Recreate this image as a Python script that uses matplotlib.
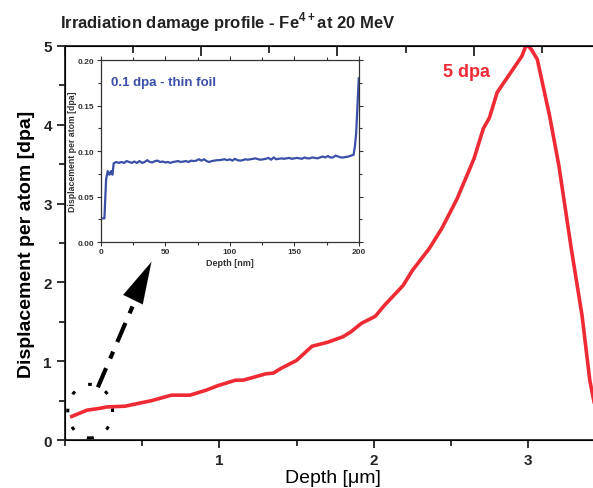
import matplotlib
matplotlib.use("Agg")
import matplotlib.pyplot as plt
from matplotlib.patches import Ellipse
from matplotlib.ticker import MultipleLocator, FormatStrFormatter

plt.rcParams['font.family'] = ['Liberation Sans', 'DejaVu Sans']
plt.rcParams['mathtext.fontset'] = 'custom'
plt.rcParams['mathtext.rm'] = 'Liberation Sans'
plt.rcParams['mathtext.bf'] = 'Liberation Sans:bold'

# main profile (depth in um, dpa)
depth_um = [0.044, 0.143, 0.217, 0.27, 0.39, 0.56, 0.69, 0.81, 0.91, 0.99, 1.105, 1.155,
            1.30, 1.35, 1.40, 1.50, 1.55, 1.60, 1.70, 1.80, 1.85, 1.92, 2.01, 2.07, 2.19,
            2.25, 2.36, 2.44, 2.54, 2.65, 2.71, 2.75, 2.80, 2.88, 2.96, 2.99, 3.02, 3.06,
            3.14, 3.20, 3.28, 3.35, 3.40, 3.44, 3.48]
dpa = [0.30, 0.38, 0.40, 0.42, 0.43, 0.50, 0.57, 0.57, 0.63, 0.69, 0.76, 0.76,
       0.84, 0.85, 0.91, 1.01, 1.10, 1.19, 1.24, 1.31, 1.37, 1.48, 1.57, 1.71, 1.96,
       2.15, 2.43, 2.68, 3.06, 3.57, 3.95, 4.09, 4.41, 4.64, 4.87, 5.02, 4.96, 4.83,
       4.11, 3.48, 2.43, 1.58, 0.76, 0.36, 0.10]

# thin foil profile (depth in nm, dpa)
depth_nm = [1.5, 2.8, 4.1, 5.4, 6.7, 8, 9] + list(range(10, 197, 2)) + [197, 198, 199, 200]
foil_dpa = [0.026, 0.026, 0.069, 0.078, 0.074, 0.078, 0.074,
            0.0865, 0.088, 0.087, 0.088, 0.087, 0.089, 0.088, 0.087, 0.0885, 0.087,
            0.089, 0.087, 0.088, 0.090, 0.088, 0.0875, 0.089, 0.0895, 0.088, 0.0885,
            0.0875, 0.088, 0.087, 0.088, 0.0885, 0.089, 0.088, 0.0885, 0.089, 0.088,
            0.0895, 0.089, 0.0895, 0.091, 0.0895, 0.091, 0.089, 0.088, 0.089, 0.0895,
            0.090, 0.090, 0.0905, 0.091, 0.090, 0.091, 0.0895, 0.0915, 0.090, 0.0895,
            0.090, 0.091, 0.0905, 0.091, 0.0915, 0.092, 0.091, 0.0905, 0.091, 0.0915,
            0.0925, 0.0905, 0.093, 0.091, 0.0915, 0.092, 0.0915, 0.092, 0.0925, 0.0915,
            0.092, 0.0925, 0.092, 0.0915, 0.093, 0.092, 0.092, 0.093, 0.0925, 0.092,
            0.093, 0.094, 0.093, 0.0945, 0.093, 0.093, 0.095, 0.094, 0.093, 0.093,
            0.0935, 0.094, 0.095, 0.096,
            0.105, 0.120, 0.150, 0.180]

fig = plt.figure(figsize=(5.93, 4.89), dpi=100)
ax = fig.add_axes([0.1096, 0.098, 0.905, 0.806])
ax.plot(depth_um, dpa, color='#ee2a35', lw=2.6, solid_joinstyle='round')
ax.set_xlim(0, 3.477)
ax.set_ylim(0, 5)
ax.set_xticks([1, 2, 3])
ax.xaxis.set_minor_locator(MultipleLocator(0.5))
ax.yaxis.set_major_locator(MultipleLocator(1))
ax.yaxis.set_minor_locator(MultipleLocator(0.5))
ax.tick_params(which='both', direction='out', width=1.3, labelsize=11, colors='#222222')
ax.tick_params(which='major', length=6)
ax.tick_params(which='minor', length=4)
ax.tick_params(which='both', axis='y', right=True)
for lab in ax.get_xticklabels() + ax.get_yticklabels():
    lab.set_fontweight('bold')
for s in ax.spines.values():
    s.set_linewidth(1.3)
    s.set_color('#222222')
ax.set_xlabel('Depth [\u03bcm]', fontsize=14, labelpad=1)
ax.set_ylabel('Displacement per atom [dpa]', fontsize=14, fontweight='bold', labelpad=6)

# top axis ticks (not aligned with bottom axis)
top = ax.twiny()
top.set_xlim(0, 3.94)
top.xaxis.set_major_locator(MultipleLocator(1))
top.xaxis.set_minor_locator(MultipleLocator(0.5))
top.tick_params(which='both', direction='in', labeltop=False, width=1.3, colors='#222222')
top.tick_params(which='major', length=7)
top.tick_params(which='minor', length=5)

fig.text(0.101, 0.955, r'Irradiation damage profile - Fe$^{\mathbf{4+}}$at 20 MeV',
         fontsize=12, fontweight='bold', color='#222222', va='center')
ax.text(2.45, 4.67, '5 dpa', color='#ee2a35', fontsize=13, fontweight='bold', va='center')

# dashed ellipse + dash-dot arrow to inset
ax.add_patch(Ellipse((0.163, 0.367), 0.29, 0.68, fill=False, lw=2.2, ls=(0, (1.2, 5.0)),
                     color='black', clip_on=False))
ax.plot([0.213, 0.50], [0.67, 1.98], color='black', lw=3.0,
        ls=(0, (5, 2.5, 1.8, 2.5)), solid_capstyle='round')
ax.annotate('', xy=(0.56, 2.26), xytext=(0.47, 1.90),
            arrowprops=dict(arrowstyle='-|>,head_length=1.0,head_width=0.26',
                            color='black', lw=0.1, mutation_scale=30,
                            shrinkA=0, shrinkB=0))

# inset
ins = fig.add_axes([0.170, 0.503, 0.435, 0.372])
ins.plot(depth_nm, foil_dpa, color='#3a4fa8', lw=1.6)
ins.set_xlim(0, 200)
ins.set_ylim(0, 0.20)
ins.xaxis.set_major_locator(MultipleLocator(50))
ins.xaxis.set_minor_locator(MultipleLocator(25))
ins.yaxis.set_major_locator(MultipleLocator(0.05))
ins.yaxis.set_minor_locator(MultipleLocator(0.025))
ins.yaxis.set_major_formatter(FormatStrFormatter('%.2f'))
ins.tick_params(which='both', direction='out', labelsize=6, width=0.8, pad=1.5,
                colors='#333333')
ins.tick_params(which='major', length=3)
ins.tick_params(which='minor', length=2)
ins.tick_params(which='both', top=True, right=True)
for lab in ins.get_xticklabels() + ins.get_yticklabels():
    lab.set_fontweight('bold')
for s in ins.spines.values():
    s.set_linewidth(0.9)
    s.set_color('#333333')
ins.set_xlabel('Depth [nm]', fontsize=6.5, fontweight='bold', labelpad=2, color='#333333')
ins.set_ylabel('Displacement per atom [dpa]', fontsize=6.3, fontweight='bold', labelpad=1,
               color='#333333')
ins.text(0.04, 0.88, '0.1 dpa - thin foil', transform=ins.transAxes, color='#3a4fa8',
         fontsize=9.5, fontweight='bold', va='center')

fig.savefig('out.png', dpi=100)
